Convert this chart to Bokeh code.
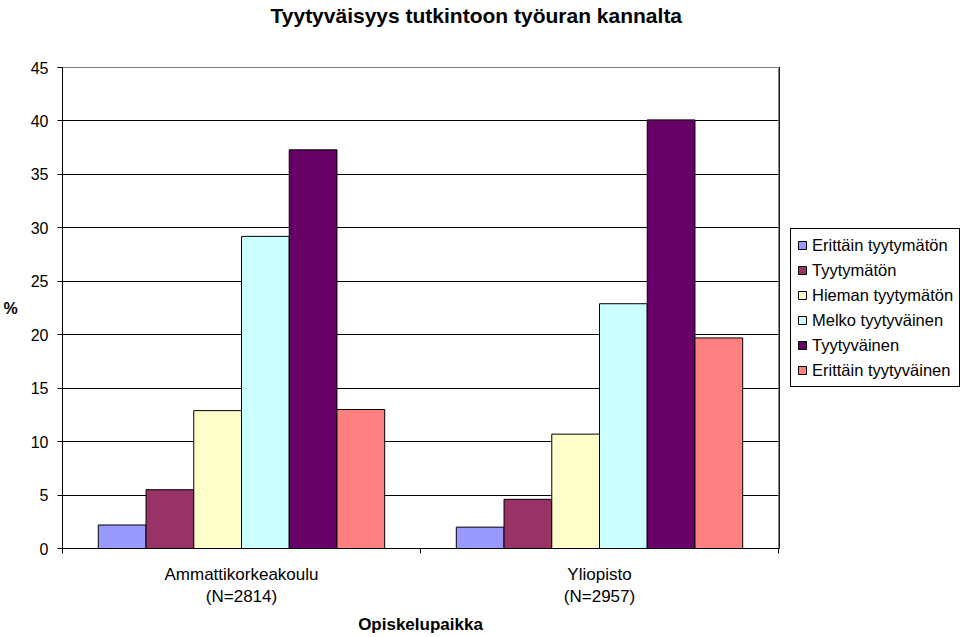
from bokeh.plotting import figure
from bokeh.models import Range1d, FixedTicker, Legend, LegendItem, ColumnDataSource, Title
from bokeh.layouts import row
from bokeh.embed import file_html
from bokeh.resources import INLINE

title_text = "Tyytyväisyys tutkintoon työuran kannalta"
categories = ["Ammattikorkeakoulu\n(N=2814)", "Yliopisto\n(N=2957)"]
series_names = ["Erittäin tyytymätön", "Tyytymätön", "Hieman tyytymätön",
                "Melko tyytyväinen", "Tyytyväinen", "Erittäin tyytyväinen"]
erittain_tyytymaton = [2.2, 2.0]
tyytymaton = [5.5, 4.6]
hieman_tyytymaton = [12.9, 10.7]
melko_tyytyvainen = [29.2, 22.9]
tyytyvainen = [37.3, 40.1]
erittain_tyytyvainen = [13.0, 19.7]
colors = ["#9999FF", "#993366", "#FFFFCC", "#CCFFFF", "#660066", "#FF8080"]
y_ticks = [0, 5, 10, 15, 20, 25, 30, 35, 40, 45]

series_values = [erittain_tyytymaton, tyytymaton, hieman_tyytymaton,
                 melko_tyytyvainen, tyytyvainen, erittain_tyytyvainen]

FONT = "Liberation Sans"

p = figure(width=779, height=637, output_backend="svg", toolbar_location=None, title=None,
           x_range=Range1d(0, len(categories)), y_range=Range1d(0, 45),
           min_border_left=60, min_border_right=1, min_border_top=67, min_border_bottom=88)
p.background_fill_color = "white"
p.border_fill_color = "white"
p.outline_line_color = "#808080"
p.outline_line_width = 1

# spacer panel next to the frame, then the real title above it
p.add_layout(Title(text=" ", text_font_size="1px", standoff=37), "above")
p.add_layout(Title(text=title_text, align="left", offset=208, text_font=FONT,
                   text_font_size="21px", text_font_style="bold", text_color="black",
                   standoff=2), "above")

n = len(series_names)
w = 0.8 / n
centers = [i + 0.5 for i in range(len(categories))]
for i, (name, vals, col) in enumerate(zip(series_names, series_values, colors)):
    xs = [c + (i - (n - 1) / 2) * w for c in centers]
    src = ColumnDataSource(dict(x=xs, top=vals))
    p.vbar(x="x", top="top", width=w, bottom=0, source=src,
           fill_color=col, line_color="black", line_width=1)

# y axis
p.yaxis.ticker = FixedTicker(ticks=y_ticks)
p.yaxis.major_tick_out = 5
p.yaxis.major_tick_in = 0
p.yaxis.minor_tick_line_color = None
p.yaxis.axis_line_color = "black"
p.yaxis.major_tick_line_color = "black"
p.yaxis.major_label_text_font = FONT
p.yaxis.major_label_text_font_size = "16px"
p.yaxis.major_label_text_color = "black"
p.yaxis.major_label_standoff = 9
p.yaxis.axis_label = "%"
p.yaxis.axis_label_text_font = FONT
p.yaxis.axis_label_text_font_size = "16px"
p.yaxis.axis_label_text_font_style = "bold"
p.yaxis.axis_label_text_color = "black"
p.yaxis.axis_label_standoff = 10
p.yaxis.axis_label_orientation = "horizontal"

# x axis
p.xaxis.ticker = FixedTicker(ticks=centers, minor_ticks=[float(i) for i in range(len(categories) + 1)])
p.xaxis.major_label_overrides = {c: lab for c, lab in zip(centers, categories)}
p.xaxis.major_tick_line_color = None
p.xaxis.minor_tick_line_color = "black"
p.xaxis.minor_tick_out = 5
p.xaxis.minor_tick_in = 0
p.xaxis.axis_line_color = "black"
p.xaxis.major_label_text_font = FONT
p.xaxis.major_label_text_font_size = "17px"
p.xaxis.major_label_text_color = "black"
p.xaxis.major_label_standoff = 10
p.xaxis.axis_label = "Opiskelupaikka"
p.xaxis.axis_label_text_font = FONT
p.xaxis.axis_label_text_font_size = "17px"
p.xaxis.axis_label_text_font_style = "bold"
p.xaxis.axis_label_text_color = "black"
p.xaxis.axis_label_standoff = 6

p.xgrid.grid_line_color = None
p.ygrid.grid_line_color = "black"
p.ygrid.grid_line_width = 1

# legend panel (separate figure to the right of the plot area; its frame aligns with p's)
q = figure(width=181, height=637, output_backend="svg", toolbar_location=None, title=None,
           x_range=Range1d(0, 1), y_range=Range1d(0, 1),
           min_border_left=0, min_border_right=0, min_border_top=0, min_border_bottom=0)
q.axis.visible = False
q.grid.grid_line_color = None
q.outline_line_color = None
q.background_fill_color = "white"
q.border_fill_color = "white"
items = []
for name, vals, col in zip(series_names, series_values, colors):
    src = ColumnDataSource(dict(x=[-5.0] * len(vals), top=vals))
    r = q.vbar(x="x", top="top", width=0.1, source=src,
               fill_color=col, line_color="black", line_width=1)
    items.append(LegendItem(label=name, renderers=[r]))

legend = Legend(items=items, location=(11, 161), orientation="vertical",
                border_line_color="black", border_line_width=1, border_line_alpha=1,
                background_fill_color="white", background_fill_alpha=1,
                label_text_font=FONT, label_text_font_size="16.5px", label_text_color="black",
                glyph_width=10, glyph_height=10, label_height=20, label_standoff=5,
                spacing=5, padding=6, margin=0)
q.add_layout(legend, "center")

layout = row(p, q, spacing=0)
open("out.html", "w").write(file_html(layout, INLINE))
